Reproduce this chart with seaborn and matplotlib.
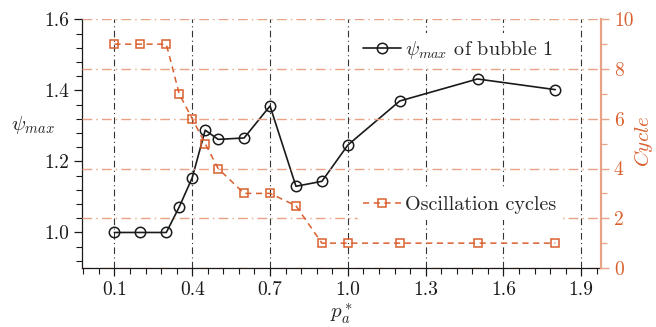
import matplotlib
matplotlib.use("Agg")
import matplotlib.pyplot as plt
from matplotlib.ticker import MultipleLocator, FixedLocator
import seaborn as sns
import pandas as pd

# Bubble data versus dimensionless pressure amplitude
pa_psi = [0.1, 0.2, 0.3, 0.35, 0.4, 0.45, 0.5, 0.6, 0.7, 0.8, 0.9, 1.0, 1.2, 1.5, 1.8]
psi_max = [1.0, 1.0, 1.0, 1.072, 1.154, 1.288, 1.262, 1.266, 1.356, 1.130, 1.144, 1.246, 1.370, 1.432, 1.402]

pa_cyc = [0.1, 0.2, 0.3, 0.35, 0.4, 0.45, 0.5, 0.6, 0.7, 0.8, 0.9, 1.0, 1.2, 1.5, 1.8]
cycles = [9, 9, 9, 7, 6, 5, 4, 3, 3, 2.5, 1, 1, 1, 1, 1]

x_ticks = [0.1, 0.4, 0.7, 1.0, 1.3, 1.6, 1.9]
left_ticks = [1.0, 1.2, 1.4, 1.6]
right_ticks = [0, 2, 4, 6, 8, 10]

df_psi = pd.DataFrame({"pa": pa_psi, "psi": psi_max})
df_cyc = pd.DataFrame({"pa": pa_cyc, "cyc": cycles})

sns.set_style("ticks")
plt.rcParams["font.family"] = ["cmr10", "DejaVu Serif"]
plt.rcParams["mathtext.fontset"] = "cm"
plt.rcParams["axes.formatter.use_mathtext"] = True

ORANGE = "#D9602E"
ORANGE_LIGHT = "#E9A285"
BLACK = "#1a1a1a"

fig = plt.figure(figsize=(6.56, 3.27), dpi=100)
ax = fig.add_axes([0.125, 0.1804, 0.7907, 0.7606])
ax2 = ax.twinx()

sns.lineplot(data=df_psi, x="pa", y="psi", ax=ax, color=BLACK, lw=1.2,
             marker="o", markersize=7.5, markerfacecolor="none",
             markeredgecolor=BLACK, markeredgewidth=1.1,
             label=r"$\psi_{max}$ of bubble 1", zorder=3)
sns.lineplot(data=df_cyc, x="pa", y="cyc", ax=ax2, color=ORANGE, lw=1.1,
             linestyle=(0, (4, 3)), marker="s", markersize=5.5,
             markerfacecolor="none", markeredgecolor=ORANGE,
             markeredgewidth=1.1, label="Oscillation cycles", zorder=3)

ax.set_xlim(-0.025, 1.975)
ax.set_ylim(0.9, 1.6)
ax2.set_ylim(0, 10)

ax.xaxis.set_major_locator(FixedLocator(x_ticks))
ax.xaxis.set_minor_locator(MultipleLocator(0.06, offset=0.04))
ax.yaxis.set_major_locator(FixedLocator(left_ticks))
ax.yaxis.set_minor_locator(MultipleLocator(0.04))
ax2.yaxis.set_major_locator(FixedLocator(right_ticks))
ax2.yaxis.set_minor_locator(MultipleLocator(1))
ax.set_xticklabels([f"{v:.1f}" for v in x_ticks])
ax.set_yticklabels([f"{v:.1f}" for v in left_ticks])
ax2.set_yticklabels([str(v) for v in right_ticks])

ax.tick_params(axis="both", which="major", direction="out", length=6,
               width=0.9, labelsize=14, colors=BLACK)
ax.tick_params(axis="both", which="minor", direction="out", length=4,
               width=0.8, colors=BLACK)
ax2.tick_params(axis="y", which="major", direction="out", length=6,
                width=1.0, labelsize=14, colors=ORANGE_LIGHT,
                labelcolor=ORANGE)
ax2.tick_params(axis="y", which="minor", direction="out", length=4,
                width=0.9, colors=ORANGE_LIGHT)

# vertical dash-dot grid for pressure amplitude, horizontal for cycles
ax.grid(axis="x", which="major", color="#333333", lw=0.8,
        linestyle=(0, (6, 3, 1, 3)))
ax.grid(axis="y", visible=False)
ax2.grid(axis="y", which="major", color=ORANGE_LIGHT, lw=1.0,
         linestyle=(0, (7, 3, 1, 3)))
ax.set_axisbelow(True)
ax2.set_axisbelow(True)

for a in (ax, ax2):
    a.spines["top"].set_visible(False)
ax2.spines["left"].set_visible(False)
ax2.spines["bottom"].set_visible(False)
ax.spines["right"].set_visible(False)
ax2.spines["right"].set_color(ORANGE_LIGHT)
ax2.spines["right"].set_linewidth(1.6)
ax.spines["left"].set_color(BLACK)
ax.spines["bottom"].set_color(BLACK)
ax.spines["left"].set_linewidth(0.9)
ax.spines["bottom"].set_linewidth(0.9)

ax.set_xlabel(r"$p_a^*$", fontsize=15, labelpad=2)
ax.set_ylabel(r"$\psi_{max}$", fontsize=15, rotation=0)
ax.yaxis.set_label_coords(-0.095, 0.53)
ax2.set_ylabel(r"$Cycle$", fontsize=15, color=ORANGE)
ax2.yaxis.set_label_coords(1.06, 0.51)

leg1 = ax.legend(loc="center left", bbox_to_anchor=(0.51, 0.875),
                 frameon=True, fontsize=14.5, handlelength=1.9,
                 handletextpad=0.2, borderpad=0.3)
leg1.get_frame().set_edgecolor("none")
leg1.get_frame().set_facecolor("white")
leg1.get_frame().set_alpha(1)
leg2 = ax2.legend(loc="center left", bbox_to_anchor=(0.51, 0.255),
                  frameon=True, fontsize=14.5, handlelength=1.9,
                  handletextpad=0.2, borderpad=0.3)
leg2.get_frame().set_edgecolor("none")
leg2.get_frame().set_facecolor("white")
leg2.get_frame().set_alpha(1)

fig.savefig("out.png", dpi=100)
